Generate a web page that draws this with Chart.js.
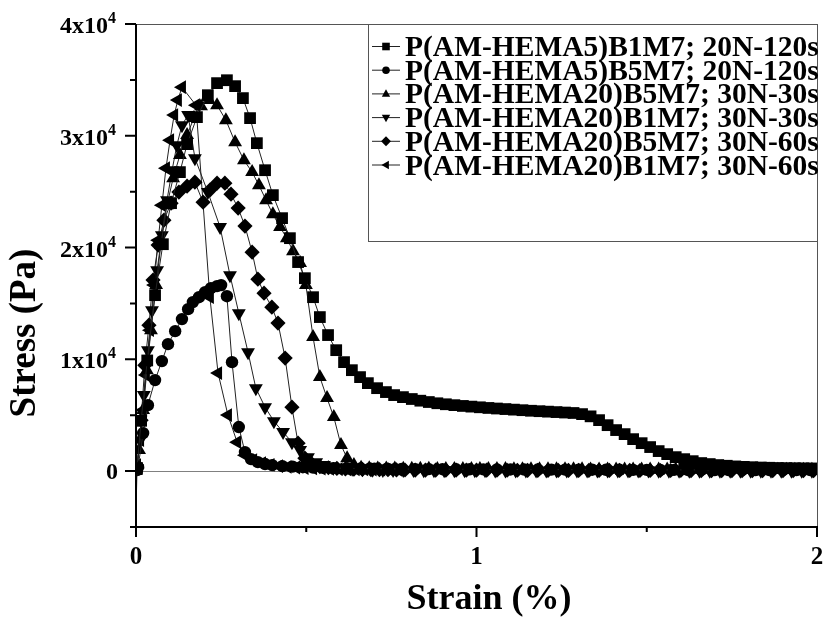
<!DOCTYPE html>
<html>
<head>
<meta charset="utf-8">
<script src="https://cdn.jsdelivr.net/npm/chart.js@4.4.0/dist/chart.umd.min.js"></script>
<style>
  html, body { margin: 0; padding: 0; background: #fff; }
</style>
</head>
<body>
<canvas id="stressChart" width="831" height="617"></canvas>
<script>
// Series: [strain (%), stress (Pa)]
const sqB1M7_20N120 = [
  [0, -3700], [0.003, 270], [0.015, 4500], [0.033, 9900], [0.056, 15740], [0.079, 20300], [0.103, 23970],
  [0.129, 26750], [0.150, 29250], [0.179, 31670], [0.211, 33630], [0.238, 34710], [0.267, 34970],
  [0.291, 34440], [0.314, 33370], [0.335, 31580], [0.355, 29340], [0.379, 26920], [0.402, 24690],
  [0.429, 22630], [0.452, 20840], [0.476, 18700], [0.496, 17260], [0.520, 15560], [0.540, 13780],
  [0.564, 12170], [0.588, 10820], [0.611, 9750], [0.634, 9030], [0.658, 8410], [0.681, 7870],
  [0.708, 7420], [0.734, 7070], [0.758, 6800], [0.784, 6620], [0.81, 6450], [0.835, 6300],
  [0.86, 6180], [0.885, 6070], [0.91, 5980], [0.935, 5900], [0.96, 5830], [0.985, 5770],
  [1.01, 5710], [1.035, 5650], [1.06, 5600], [1.085, 5550], [1.11, 5500], [1.135, 5450],
  [1.16, 5400], [1.185, 5360], [1.21, 5320], [1.235, 5280], [1.26, 5240], [1.285, 5200],
  [1.31, 5100], [1.335, 4900], [1.36, 4560], [1.385, 4110], [1.41, 3670], [1.435, 3310],
  [1.46, 2860], [1.485, 2500], [1.51, 2150], [1.535, 1790], [1.56, 1520], [1.585, 1250],
  [1.61, 1070], [1.635, 890], [1.66, 720], [1.685, 630], [1.71, 540], [1.735, 480], [1.76, 420],
  [1.785, 380], [1.81, 350], [1.835, 320], [1.86, 300], [1.885, 280], [1.91, 270], [1.935, 260],
  [1.96, 250], [1.985, 240]
];

const ciB5M7_20N120 = [
  [0.003, 100], [0.006, 360], [0.021, 3400], [0.035, 5900], [0.056, 8140], [0.076, 9840],
  [0.094, 11360], [0.115, 12520], [0.135, 13600], [0.153, 14490], [0.167, 15120], [0.185, 15560],
  [0.203, 16010], [0.220, 16370], [0.238, 16550], [0.250, 16640], [0.267, 15650], [0.282, 9750],
  [0.302, 3940], [0.320, 1700], [0.338, 1070], [0.358, 800], [0.379, 630], [0.40, 540],
  [0.43, 450], [0.46, 400], [0.49, 350], [0.52, 320], [0.55, 290], [0.58, 270], [0.62, 250],
  [0.66, 230], [0.70, 210], [0.74, 200], [0.78, 190], [0.82, 180], [0.86, 175], [0.90, 170],
  [0.94, 165], [0.98, 160], [1.02, 155], [1.06, 150], [1.10, 145], [1.14, 140], [1.18, 140],
  [1.22, 135], [1.26, 130], [1.30, 130], [1.34, 125], [1.38, 120], [1.42, 120], [1.46, 115],
  [1.50, 115], [1.54, 110], [1.58, 110], [1.62, 105], [1.66, 105], [1.70, 100], [1.74, 100],
  [1.78, 100], [1.82, 95], [1.86, 95], [1.90, 90], [1.94, 90], [1.98, 90]
];

const upB5M7_30N30 = [
  [0, 0], [0.009, 1880], [0.021, 5460], [0.032, 9030], [0.044, 12610], [0.059, 16640],
  [0.073, 20220], [0.091, 23790], [0.109, 26210], [0.129, 28270], [0.150, 30060], [0.170, 31580],
  [0.191, 32650], [0.214, 33190], [0.238, 32740], [0.264, 31400], [0.291, 29430], [0.317, 27820],
  [0.341, 26750], [0.361, 25580], [0.382, 24240], [0.402, 22990], [0.423, 21830], [0.443, 20840],
  [0.461, 19680], [0.482, 18610], [0.499, 16640], [0.520, 11990], [0.540, 8410], [0.561, 6530],
  [0.581, 4830], [0.602, 2330], [0.620, 1160], [0.640, 540], [0.661, 300], [0.685, 250],
  [0.71, 240], [0.735, 230], [0.76, 225], [0.785, 220], [0.81, 215], [0.835, 210], [0.86, 205],
  [0.885, 200], [0.91, 200], [0.935, 195], [0.96, 190], [0.985, 190], [1.01, 185], [1.035, 185],
  [1.06, 180], [1.085, 180], [1.11, 175], [1.135, 175], [1.16, 170], [1.185, 170], [1.21, 165],
  [1.235, 165], [1.26, 160], [1.285, 160], [1.31, 160], [1.335, 155], [1.36, 155], [1.385, 150],
  [1.41, 150], [1.435, 150], [1.46, 145], [1.485, 145], [1.51, 145], [1.535, 140], [1.56, 140],
  [1.585, 140], [1.61, 135], [1.635, 135], [1.66, 135], [1.685, 130], [1.71, 130], [1.735, 130],
  [1.76, 130], [1.785, 125], [1.81, 125], [1.835, 125], [1.86, 125], [1.885, 120], [1.91, 120],
  [1.935, 120], [1.96, 120], [1.985, 120]
];

const dnB1M7_30N30 = [
  [0.003, 270], [0.012, 2770], [0.023, 6800], [0.035, 10820], [0.047, 14400], [0.062, 17980],
  [0.076, 21110], [0.091, 24240], [0.106, 26920], [0.120, 29160], [0.135, 30950], [0.153, 31850],
  [0.173, 28000], [0.211, 24960], [0.247, 21830], [0.276, 17530], [0.302, 14130], [0.329, 10640],
  [0.352, 7420], [0.379, 5720], [0.405, 4470], [0.432, 3490], [0.458, 2590], [0.482, 1880],
  [0.505, 1250], [0.529, 800], [0.552, 540], [0.575, 400], [0.605, 300], [0.635, 220],
  [0.665, 170], [0.695, 130], [0.725, 110], [0.755, 100], [0.785, 95], [0.815, 90], [0.845, 85],
  [0.875, 80], [0.905, 80], [0.935, 75], [0.965, 75], [0.995, 70], [1.025, 70], [1.055, 65],
  [1.085, 65], [1.115, 60], [1.145, 60], [1.175, 60], [1.205, 55], [1.235, 55], [1.265, 55],
  [1.295, 50], [1.325, 50], [1.355, 50], [1.385, 50], [1.415, 45], [1.445, 45], [1.475, 45],
  [1.505, 45], [1.535, 40], [1.565, 40], [1.595, 40], [1.625, 40], [1.655, 40], [1.685, 35],
  [1.715, 35], [1.745, 35], [1.775, 35], [1.805, 35], [1.835, 30], [1.865, 30], [1.895, 30],
  [1.925, 30], [1.955, 30], [1.985, 30]
];

const diB5M7_30N60 = [
  [0.003, 270], [0.015, 4560], [0.026, 9480], [0.038, 13060], [0.050, 17090], [0.065, 20220],
  [0.082, 22450], [0.103, 23970], [0.126, 24960], [0.150, 25490], [0.173, 25850], [0.197, 24060],
  [0.217, 25140], [0.238, 25760], [0.261, 25760], [0.279, 24780], [0.300, 23530], [0.320, 21920],
  [0.341, 19590], [0.358, 17170], [0.376, 15920], [0.399, 14670], [0.417, 13240], [0.438, 10110],
  [0.458, 5720], [0.476, 2500], [0.496, 1160], [0.517, 630], [0.54, 400], [0.565, 300],
  [0.59, 240], [0.615, 200], [0.64, 170], [0.665, 150], [0.69, 140], [0.715, 130], [0.74, 120],
  [0.765, 110], [0.79, 100], [0.82, 95], [0.85, 90], [0.88, 90], [0.91, 85], [0.94, 85],
  [0.97, 80], [1.00, 80], [1.03, 80], [1.06, 75], [1.09, 75], [1.12, 75], [1.15, 70],
  [1.18, 70], [1.21, 70], [1.24, 65], [1.27, 65], [1.30, 65], [1.33, 65], [1.36, 60],
  [1.39, 60], [1.42, 60], [1.45, 60], [1.48, 55], [1.51, 55], [1.54, 55], [1.57, 55],
  [1.60, 55], [1.63, 50], [1.66, 50], [1.69, 50], [1.72, 50], [1.75, 50], [1.78, 50],
  [1.81, 45], [1.84, 45], [1.87, 45], [1.90, 45], [1.93, 45], [1.96, 45], [1.99, 45]
];

const ltB1M7_30N60 = [
  [0.003, 540], [0.012, 2770], [0.021, 5460], [0.029, 8590], [0.041, 12610], [0.053, 16640],
  [0.065, 20660], [0.076, 23790], [0.088, 27100], [0.100, 29610], [0.112, 31850], [0.123, 33190],
  [0.135, 34350], [0.176, 32740], [0.217, 15560], [0.241, 8770], [0.270, 5010], [0.297, 2590],
  [0.320, 1430], [0.344, 980], [0.370, 720], [0.395, 560], [0.42, 450], [0.445, 380], [0.47, 320],
  [0.495, 280], [0.52, 250], [0.545, 220], [0.57, 200], [0.595, 180], [0.62, 170], [0.645, 160],
  [0.67, 150], [0.695, 140], [0.72, 130], [0.745, 120], [0.77, 110]
];

const seriesNames = [
  'P(AM-HEMA5)B1M7; 20N-120s',
  'P(AM-HEMA5)B5M7; 20N-120s',
  'P(AM-HEMA20)B5M7; 30N-30s',
  'P(AM-HEMA20)B1M7; 30N-30s',
  'P(AM-HEMA20)B5M7; 30N-60s',
  'P(AM-HEMA20)B1M7; 30N-60s'
];

const xTicks = [0, 1, 2];
const xMinorTicks = [0.5, 1.5];
const yTicks = [0, 10000, 20000, 30000, 40000];
const yTickMant = ['0', '1x10', '2x10', '3x10', '4x10'];
const yMinorTicks = [-5000, 5000, 15000, 25000, 35000];

const serif = '"Liberation Serif", "Times New Roman", serif';

// marker settings per series (style, radius, rotation)
const markers = [
  { style: 'rect', r: 8.3, rot: 0 },
  { style: 'circle', r: 6.2, rot: 0 },
  { style: 'triangle', r: 8, rot: 0 },
  { style: 'triangle', r: 8, rot: 180 },
  { style: 'rectRot', r: 7.6, rot: 0 },
  { style: 'triangle', r: 8, rot: 270 }
];

const allSeries = [sqB1M7_20N120, ciB5M7_20N120, upB5M7_30N30, dnB1M7_30N30, diB5M7_30N60, ltB1M7_30N60];

const datasets = allSeries.map((s, i) => ({
  label: seriesNames[i],
  data: s.map(p => ({ x: p[0], y: p[1] })),
  borderColor: '#222',
  borderWidth: 1,
  backgroundColor: '#000',
  pointBackgroundColor: '#000',
  pointBorderColor: '#000',
  pointBorderWidth: 0,
  pointStyle: markers[i].style,
  // the dip below zero at the start is only a line in the original
  pointRadius: c => (c.raw && c.raw.y < 0 ? 0 : markers[i].r),
  pointRotation: markers[i].rot,
  tension: 0
}));

// little marker for the legend
function legendMark(ctx, style, rot, cx, cy, r) {
  ctx.save();
  ctx.translate(cx, cy);
  ctx.rotate(rot * Math.PI / 180);
  ctx.beginPath();
  if (style === 'rect') {
    ctx.rect(-r, -r, 2 * r, 2 * r);
  } else if (style === 'circle') {
    ctx.arc(0, 0, r, 0, Math.PI * 2);
  } else if (style === 'rectRot') {
    ctx.moveTo(0, -r * 1.3); ctx.lineTo(r * 1.3, 0); ctx.lineTo(0, r * 1.3); ctx.lineTo(-r * 1.3, 0);
    ctx.closePath();
  } else {
    ctx.moveTo(0, -r * 1.2); ctx.lineTo(r * 1.1, r * 0.75); ctx.lineTo(-r * 1.1, r * 0.75);
    ctx.closePath();
  }
  ctx.fillStyle = '#000';
  ctx.fill();
  ctx.restore();
}

const originFrame = {
  id: 'originFrame',
  beforeDatasetsDraw(chart) {
    const { ctx, chartArea: a, scales: { x, y } } = chart;
    ctx.save();
    // zero line
    const y0 = Math.round(y.getPixelForValue(0)) + 0.5;
    ctx.strokeStyle = '#808080';
    ctx.lineWidth = 1;
    ctx.beginPath(); ctx.moveTo(a.left, y0); ctx.lineTo(a.right, y0); ctx.stroke();
    // top / right border
    ctx.strokeStyle = '#555';
    ctx.beginPath();
    ctx.moveTo(a.left, a.top + 0.5); ctx.lineTo(a.right + 0.5, a.top + 0.5); ctx.lineTo(a.right + 0.5, a.bottom);
    ctx.stroke();
    ctx.restore();
  },
  afterDraw(chart) {
    const { ctx, chartArea: a, scales: { x, y } } = chart;
    ctx.save();
    ctx.strokeStyle = '#000';
    ctx.lineWidth = 2;
    // left and bottom axes
    ctx.beginPath();
    ctx.moveTo(a.left, a.top); ctx.lineTo(a.left, a.bottom);
    ctx.moveTo(a.left - 6, a.bottom); ctx.lineTo(a.right + 1, a.bottom);
    ctx.stroke();

    // y ticks
    ctx.beginPath();
    yTicks.forEach(v => { const p = y.getPixelForValue(v); ctx.moveTo(a.left - 11, p); ctx.lineTo(a.left, p); });
    yMinorTicks.forEach(v => { const p = y.getPixelForValue(v); ctx.moveTo(a.left - 6, p); ctx.lineTo(a.left, p); });
    // x ticks
    xTicks.forEach(v => { const p = x.getPixelForValue(v); ctx.moveTo(p, a.bottom); ctx.lineTo(p, a.bottom + 10); });
    xMinorTicks.forEach(v => { const p = x.getPixelForValue(v); ctx.moveTo(p, a.bottom); ctx.lineTo(p, a.bottom + 5); });
    ctx.stroke();

    // y tick labels
    ctx.fillStyle = '#000';
    ctx.textBaseline = 'alphabetic';
    yTicks.forEach((v, i) => {
      const p = y.getPixelForValue(v);
      ctx.font = 'bold 24px ' + serif;
      ctx.textAlign = 'right';
      if (i === 0) {
        ctx.fillText('0', a.left - 18, p + 8);
      } else {
        ctx.fillText(yTickMant[i], a.left - 28, p + 9);
        ctx.font = 'bold 16px ' + serif;
        ctx.textAlign = 'left';
        ctx.fillText('4', a.left - 28, p - 1);
      }
    });

    // x tick labels
    ctx.font = 'bold 25px ' + serif;
    ctx.textAlign = 'center';
    xTicks.forEach(v => {
      ctx.fillText(String(v), x.getPixelForValue(v), a.bottom + 37);
    });

    // axis titles
    ctx.font = 'bold 36px ' + serif;
    ctx.textAlign = 'center';
    ctx.textBaseline = 'middle';
    ctx.fillText('Strain (%)', 489, 600);
    ctx.save();
    ctx.translate(25, 333);
    ctx.rotate(-Math.PI / 2);
    ctx.font = 'bold 37px ' + serif;
    ctx.fillText('Stress (Pa)', 0, 0);
    ctx.restore();

    // legend box
    const lx = 368, ly = 24, lw = a.right - 368, lh = 217;
    ctx.fillStyle = '#fff';
    ctx.fillRect(lx, ly, lw, lh);
    ctx.strokeStyle = '#555';
    ctx.lineWidth = 1;
    ctx.strokeRect(lx + 0.5, ly + 0.5, lw, lh);

    ctx.font = 'bold 29.5px ' + serif;
    ctx.textAlign = 'left';
    ctx.textBaseline = 'alphabetic';
    seriesNames.forEach((name, i) => {
      const cy = 46.5 + i * 23.7;
      ctx.strokeStyle = '#222';
      ctx.lineWidth = 1;
      ctx.beginPath(); ctx.moveTo(372, cy); ctx.lineTo(400, cy); ctx.stroke();
      legendMark(ctx, markers[i].style, markers[i].rot, 386, cy, 3.8);
      ctx.fillStyle = '#000';
      ctx.fillText(name, 405, cy + 9.5);
    });
    ctx.restore();
  }
};

new Chart(document.getElementById('stressChart'), {
  type: 'line',
  data: { datasets },
  options: {
    responsive: false,
    animation: false,
    layout: { padding: { left: 136, right: 14, top: 24, bottom: 90 } },
    scales: {
      x: { type: 'linear', min: 0, max: 2, display: false },
      y: { type: 'linear', min: -5000, max: 40000, display: false }
    },
    plugins: {
      legend: { display: false },
      tooltip: { enabled: false }
    }
  },
  plugins: [originFrame]
});
</script>
</body>
</html>
